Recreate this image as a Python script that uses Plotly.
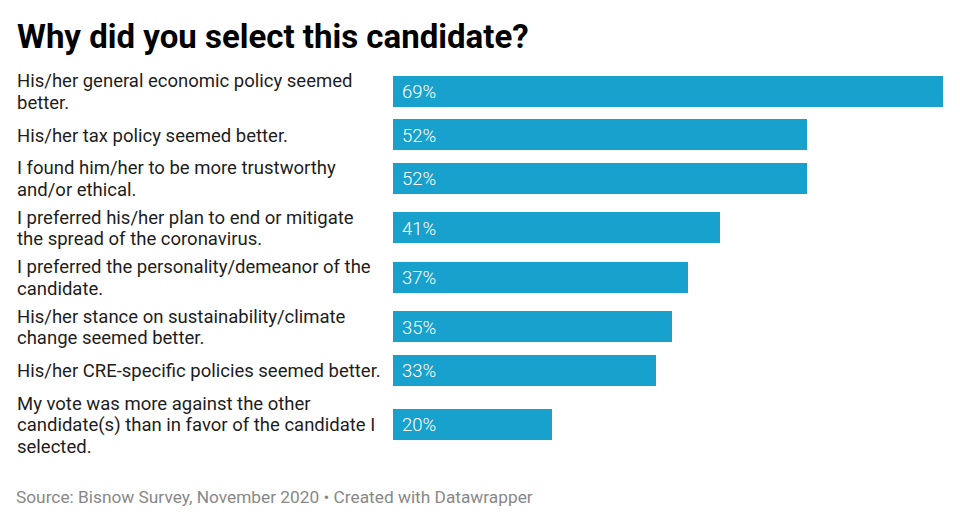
import plotly.graph_objects as go

# survey answers (top to bottom) and share of respondents, in %
reasons = [
    ["His/her general economic policy seemed", "better."],
    ["His/her tax policy seemed better."],
    ["I found him/her to be more trustworthy", "and/or ethical."],
    ["I preferred his/her plan to end or mitigate", "the spread of the coronavirus."],
    ["I preferred the personality/demeanor of the", "candidate."],
    ["His/her stance on sustainability/climate", "change seemed better."],
    ["His/her CRE-specific policies seemed better."],
    ["My vote was more against the other",
     "candidate(s) than in favor of the candidate I", "selected."],
]
shares = [69, 52, 52, 41, 37, 35, 33, 20]

W, H = 960, 523
OFF = 8  # page margin the browser puts around the figure
BAR_COLOR = "#18a1cd"
FONT = "Roboto"
LEFT = 393 - OFF
RIGHT = W + OFF - 943
BAR_H = 31
LINE_H = 21.5
ROW_PAD = 6.5
TOP = 66.25 - OFF

# rows grow with the number of label lines, like Datawrapper does
centers = []
y = TOP
for r in reasons:
    h = max(BAR_H, LINE_H * len(r)) + ROW_PAD
    centers.append(y + h / 2)
    y += h

fig = go.Figure(go.Bar(
    x=shares,
    y=centers,
    orientation="h",
    width=BAR_H,
    marker=dict(color=BAR_COLOR, line=dict(width=0)),
    hoverinfo="skip",
))

plot_w = W - LEFT - RIGHT


def px_x(p):
    return (p - OFF - LEFT) / plot_w


for r, s, c in zip(reasons, shares, centers):
    n = len(r)
    for i, line in enumerate(r):
        fig.add_annotation(
            text=line, xref="paper", x=px_x(15), yref="y",
            y=c + (i - (n - 1) / 2) * LINE_H + 1,
            xanchor="left", yanchor="middle", align="left", showarrow=False,
            font=dict(family=FONT, size=18.5, color="#1d1d1d"),
        )
    fig.add_annotation(
        text=f"{s}%", x=0, y=c + 1, xshift=7, xanchor="left", yanchor="middle",
        showarrow=False,
        font=dict(family=FONT, size=18.5, color="white", weight=300),
    )

fig.add_annotation(
    text="<b>Why did you select this candidate?</b>",
    xref="paper", x=px_x(15), y=36 - OFF, yref="y",
    xanchor="left", yanchor="middle", showarrow=False,
    font=dict(family=FONT, size=33, color="#000000"),
)
fig.add_annotation(
    text="Source: Bisnow Survey, November 2020 • Created with Datawrapper",
    xref="paper", x=px_x(14), y=497 - OFF, yref="y",
    xanchor="left", yanchor="middle", showarrow=False,
    font=dict(family=FONT, size=17.3, color="#888888"),
)

fig.update_layout(
    width=W, height=H,
    margin=dict(l=LEFT, r=RIGHT, t=0, b=0),
    paper_bgcolor="white", plot_bgcolor="white",
    showlegend=False,
    xaxis=dict(range=[0, 69], visible=False, fixedrange=True),
    yaxis=dict(range=[H, 0], visible=False, fixedrange=True),
    bargap=0,
)

fig.write_html("out.html", config={"displayModeBar": False})
